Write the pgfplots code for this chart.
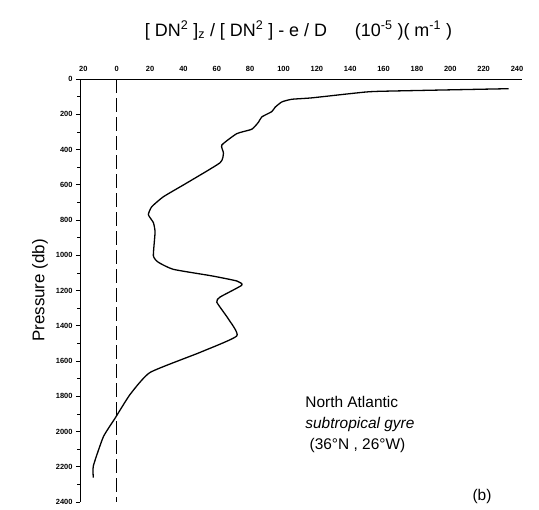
\documentclass[border=0pt]{standalone}
\usepackage{pgfplots}
\pgfplotsset{compat=1.18}
\usepackage{fontspec}
\setmainfont{Liberation Sans}
\begin{document}
\begin{tikzpicture}
\path (-80bp,-8bp) rectangle (459bp,502bp);
\begin{axis}[
  name=ax, at={(0,0)}, anchor=south west,
  scale only axis, width=437bp, height=423bp,
  xmin=-22, xmax=240, ymin=0, ymax=2400, y dir=reverse,
  axis lines=box,
  axis line style={draw=none},
  xticklabel pos=right, ytick pos=left,
  xtick={-20,0,20,...,240},
  xticklabels={20,0,20,40,60,80,100,120,140,160,180,200,220,240},
  xtick style={draw=none},
  ytick={0,200,...,2400},
  minor y tick num=1,
  tick align=outside,
  major tick length=4bp, minor tick length=2.5bp,
  tick style={line width=0.7pt, black},
  ticklabel style={font=\fontsize{7.5}{8}\selectfont\bfseries},
  /pgf/number format/assume math mode=true,
  /pgf/number format/1000 sep={},
  clip=false,
]
\addplot[black, line width=1.1pt, dash pattern=on 14bp off 5bp] coordinates {(0,0) (0,2400)};
\addplot[black, line width=1.3pt, smooth, tension=0.3] coordinates {
(235,55) (157,70) (143,80) (117,107) (105,115) (99,130) (95,160) (93,185)
(87,215) (85,245) (81,285) (72,310) (63,375) (64,420) (62,475) (42,590)
(28,668) (21,725) (19,770) (22,815) (23,870) (22,1003) (25,1040) (34,1080)
(57,1117) (72,1146) (75,1170) (62,1237) (60,1266) (67,1362) (72,1458)
(50,1551) (20,1665) (8,1790) (-1,1925) (-8,2030) (-14,2195) (-14,2262)
};
\node[anchor=base, font=\fontsize{18}{20}\selectfont] at ([yshift=43bp]axis description cs:0.5,1)
  {[ DN\textsuperscript{2} ]\textsubscript{z} / [ DN\textsuperscript{2} ] - e / D \quad\ (10\textsuperscript{-5} )( m\textsuperscript{-1} )};
\node[rotate=90, font=\fontsize{17}{20}\selectfont] at ([xshift=-40bp]axis description cs:0,0.5) {Pressure (db)};
\node[anchor=north west, align=left, font=\fontsize{15.5}{21}\selectfont, inner sep=0pt] at (113,1800)
  {North Atlantic\\\itshape subtropical gyre\\\upshape\ (36\textdegree N , 26\textdegree W)};
\node[font=\fontsize{15.5}{20}\selectfont] at (219,2370) {(b)};
\end{axis}
\draw[black, line width=1.6pt, line cap=rect] (0.5bp,0.5bp) -- (0.5bp,422.5bp) -- (441.5bp,422.5bp);
\end{tikzpicture}
\end{document}
